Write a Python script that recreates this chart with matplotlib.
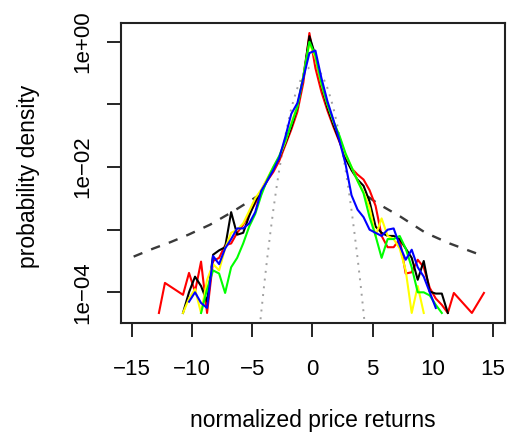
import numpy as np
import matplotlib
matplotlib.use("Agg")
import matplotlib.pyplot as plt

plt.rcParams["font.family"] = ["Liberation Sans", "DejaVu Sans"]

# log10(probability density), bin centres in normalized returns
red_x = [-12.75, -12.25, -10.75, -10.25, -9.75, -9.25, -8.75, -8.25, -7.75, -7.25, -6.75, -6.25,
         -5.75, -5.25, -4.75, -4.25, -3.75, -3.25, -2.75, -2.25, -1.75, -1.25, -0.75, -0.25,
         0.25, 0.75, 1.25, 1.75, 2.25, 2.75, 3.25, 3.75, 4.25, 4.75, 5.25, 5.75, 6.25, 6.75,
         7.25, 7.75, 8.25, 8.75, 9.25, 9.75, 10.25, 10.75, 11.25, 11.75, 13.25, 14.25]
red_logd = [-4.33, -3.85, -4.04, -3.69, -3.99, -3.51, -4.33, -3.50, -3.45, -3.25, -3.22, -3.05,
            -2.92, -2.75, -2.58, -2.40, -2.22, -2.08, -1.90, -1.65, -1.40, -1.12, -0.65, 0.14,
            -0.42, -0.80, -1.10, -1.36, -1.60, -1.84, -2.02, -2.12, -2.20, -2.37, -2.62, -3.10,
            -3.28, -3.28, -3.15, -3.70, -3.68, -3.48, -3.60, -3.93, -4.10, -4.20, -4.33, -4.01,
            -4.33, -4.01]

black_x = [-10.75, -10.25, -9.75, -9.25, -8.75, -8.25, -7.75, -7.25, -6.75, -6.25, -5.75, -5.25,
           -4.75, -4.25, -3.75, -3.25, -2.75, -2.25, -1.75, -1.25, -0.75, -0.25, 0.25, 0.75,
           1.25, 1.75, 2.25, 2.75, 3.25, 3.75, 4.25, 4.75, 5.25, 5.75, 6.25, 6.75, 7.25, 7.75,
           8.25, 8.75, 9.25, 9.75, 10.25, 10.75, 11.25]
black_logd = [-4.33, -4.00, -3.75, -3.90, -4.15, -3.40, -3.33, -3.28, -2.72, -3.08, -3.05, -2.78,
              -2.55, -2.38, -2.20, -2.02, -1.85, -1.62, -1.36, -1.05, -0.55, 0.09, -0.22, -0.70,
              -1.05, -1.33, -1.58, -1.86, -2.05, -2.20, -2.30, -2.55, -2.95, -3.05, -3.10, -3.10,
              -3.15, -3.30, -3.45, -3.80, -3.50, -3.99, -4.02, -4.02, -4.33]

yellow_x = [-10.75, -10.25, -9.75, -9.25, -8.75, -8.25, -7.75, -7.25, -6.75, -6.25, -5.75, -5.25,
            -4.75, -4.25, -3.75, -3.25, -2.75, -2.25, -1.75, -1.25, -0.75, -0.25, 0.25, 0.75,
            1.25, 1.75, 2.25, 2.75, 3.25, 3.75, 4.25, 4.75, 5.25, 5.75, 6.25, 6.75, 7.25, 7.75,
            8.25, 8.75, 9.25]
yellow_logd = [-4.33, -4.10, -3.95, -4.33, -3.80, -3.55, -3.65, -3.30, -3.05, -3.00, -2.90, -2.70,
               -2.50, -2.36, -2.18, -2.00, -1.84, -1.60, -1.30, -1.02, -0.55, -0.02, -0.25, -0.68,
               -1.00, -1.28, -1.52, -1.80, -2.00, -2.22, -2.40, -2.65, -3.10, -2.82, -3.10, -3.15,
               -3.30, -3.65, -4.33, -3.90, -4.33]

green_x = [-9.25, -8.75, -8.25, -7.75, -7.25, -6.75, -6.25, -5.75, -5.25, -4.75, -4.25, -3.75,
           -3.25, -2.75, -2.25, -1.75, -1.25, -0.75, -0.25, 0.25, 0.75, 1.25, 1.75, 2.25, 2.75,
           3.25, 3.75, 4.25, 4.75, 5.25, 5.75, 6.25, 6.75, 7.25, 7.75, 8.25, 8.75, 9.25, 9.75,
           10.25, 10.75]
green_logd = [-4.33, -3.95, -3.65, -3.70, -4.01, -3.60, -3.45, -3.22, -2.95, -2.75, -2.45, -2.20,
              -2.00, -1.82, -1.58, -1.32, -1.04, -0.56, 0.00, -0.22, -0.66, -1.00, -1.27, -1.50,
              -1.78, -2.00, -2.22, -2.42, -2.80, -3.10, -3.45, -3.15, -3.15, -3.10, -3.30, -3.60,
              -4.00, -4.00, -4.05, -4.20, -4.33]

blue_x = [-10.25, -9.75, -9.25, -8.75, -8.25, -7.75, -7.25, -6.75, -6.25, -5.75, -5.25, -4.75,
          -4.25, -3.75, -3.25, -2.75, -2.25, -1.75, -1.25, -0.75, -0.25, 0.25, 0.75, 1.25, 1.75,
          2.25, 2.75, 3.25, 3.75, 4.25, 4.75, 5.25, 5.75, 6.25, 6.75, 7.25, 7.75, 8.25, 8.75,
          9.25, 9.75, 10.25]
blue_logd = [-4.15, -4.00, -4.17, -4.25, -3.42, -3.55, -3.30, -3.15, -2.98, -2.98, -2.90, -2.72,
             -2.38, -2.22, -2.05, -1.85, -1.52, -1.15, -0.98, -0.58, -0.18, -0.14, -0.58, -0.95,
             -1.25, -1.58, -1.95, -2.45, -2.68, -2.80, -3.00, -3.05, -3.10, -3.00, -2.98, -3.25,
             -3.48, -3.32, -3.60, -3.75, -4.00, -4.25]

# heavy-tailed fit (dashed), only visible outside the core
fit_x = [-14.85, -13.2, -11.8, -10.3, -8.5, -6.6, -4.6, np.nan, 4.6, 5.4, 7.3, 9.4, 11.4, 14.2]
fit_logd = [-3.43, -3.30, -3.20, -3.08, -2.92, -2.71, -2.47, np.nan, -2.47, -2.58, -2.79, -3.05,
            -3.22, -3.42]

# gaussian reference (dotted)
gauss_x = [-4.5, -4.25, -4.0, -3.75, -3.5, -3.25, -3.0, -2.75, -2.5, -2.25, -2.0, -1.75, -1.5,
           -1.25, -1.0, -0.75, -0.5, -0.25, 0.0, 0.25, 0.5, 0.75, 1.0, 1.25, 1.5, 1.75, 2.0,
           2.25, 2.5, 2.75, 3.0, 3.25, 3.5, 3.75, 4.0, 4.25, 4.5]
gauss_logd = [-4.80, -4.32, -3.87, -3.45, -3.06, -2.69, -2.35, -2.04, -1.76, -1.50, -1.27, -1.06,
              -0.89, -0.74, -0.62, -0.52, -0.45, -0.41, -0.40, -0.41, -0.45, -0.52, -0.62, -0.74,
              -0.89, -1.06, -1.27, -1.50, -1.76, -2.04, -2.35, -2.69, -3.06, -3.45, -3.87, -4.32,
              -4.80]

x_ticks = [-15, -10, -5, 0, 5, 10, 15]
x_ticklabels = ["\u221215", "\u221210", "\u22125", "0", "5", "10", "15"]
y_ticks = [1, 1e-1, 1e-2, 1e-3, 1e-4]
y_ticklabels = ["1e+00", "", "1e\u221202", "", "1e\u221204"]

W, H = 507, 432
fig = plt.figure(figsize=(W / 100, H / 100), dpi=100)
ax = fig.add_axes([121 / W, 1 - 323 / H, (505 - 121) / W, (323 - 23) / H])

ax.plot(fit_x, 10 ** np.array(fit_logd), color="#3a3a3a", lw=1.7, linestyle=(0, (4, 4)))
ax.plot(gauss_x, 10 ** np.array(gauss_logd), color="#a0a0a0", lw=1.4, linestyle=(0, (1, 3)))

series = [(red_x, red_logd, "#ff0000"), (black_x, black_logd, "#000000"),
          (yellow_x, yellow_logd, "#ffff00"), (green_x, green_logd, "#00ff00"),
          (blue_x, blue_logd, "#0000ff")]
for xs, ld, col in series:
    ax.plot(xs, 10 ** np.array(ld), color=col, lw=1.5)

ax.set_yscale("log")
ax.set_xlim(-15.9, 16.0)
ax.set_ylim(10 ** -4.49, 10 ** 0.30)
ax.set_xticks(x_ticks)
ax.set_xticklabels(x_ticklabels)
ax.set_yticks(y_ticks)
ax.set_yticklabels(y_ticklabels, rotation=90, va="center")
ax.minorticks_off()
ax.tick_params(axis="both", direction="out", length=10, width=1.2, labelsize=16)
ax.tick_params(axis="x", pad=16)
ax.tick_params(axis="y", pad=10)
for s in ax.spines.values():
    s.set_linewidth(1.5)
    s.set_color("#222222")

fig.text(313 / W, 1 - 421 / H, "normalized price returns", ha="center", va="center", fontsize=16.5)
fig.text(29 / W, 1 - 176 / H, "probability density", ha="center", va="center",
         rotation=90, fontsize=16.5)

fig.savefig("out.png", dpi=100)
